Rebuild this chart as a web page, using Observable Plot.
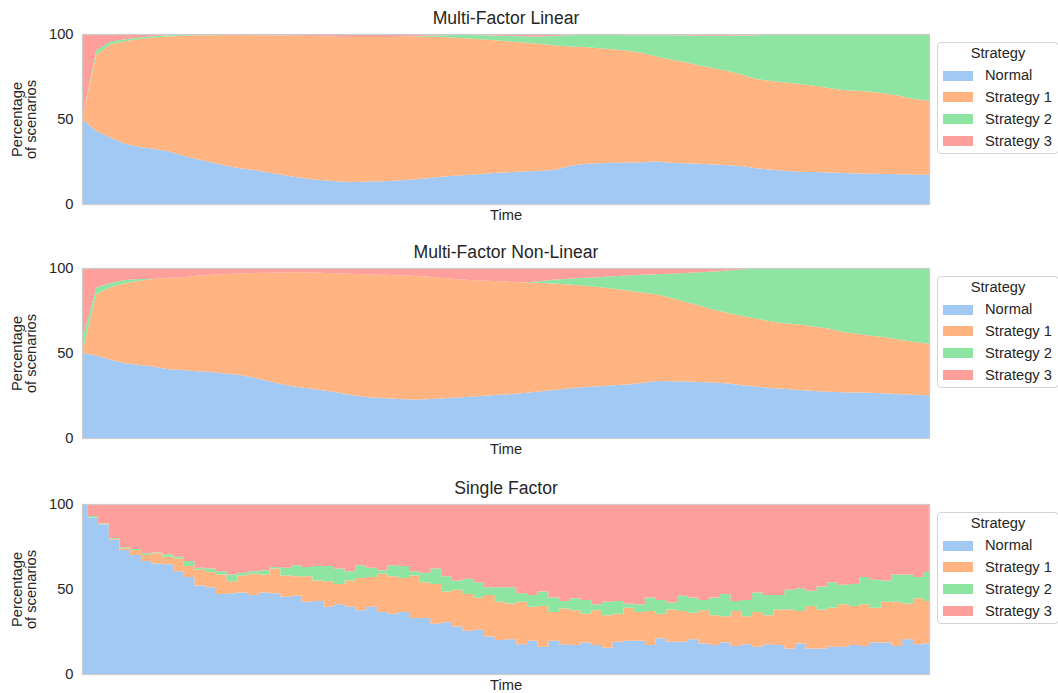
<!DOCTYPE html>
<html>
<head>
<meta charset="utf-8">
<script src="https://cdn.jsdelivr.net/npm/d3@7"></script>
<script src="https://cdn.jsdelivr.net/npm/@observablehq/plot@0.6"></script>
<style>
  body { margin: 0; background: #fff; overflow: hidden; }
  #chart { position: relative; width: 1058px; height: 693px; overflow: hidden;
           font-family: "Liberation Sans", Arial, sans-serif; color: #262626; }
  .panel { position: absolute; left: 0; }
  .legend { position: absolute; left: 937px; width: 122px; height: 112px; box-sizing: border-box;
            border: 1px solid #d4d4d4; border-radius: 4px; background: #fff; font-size: 14.7px; }
  .legend .title { position: absolute; left: 0; right: 0; top: 2px; text-align: center; line-height: 17px; }
  .legend .sw { position: absolute; left: 5px; width: 30px; height: 10px; }
  .legend .lab { position: absolute; left: 47px; line-height: 17px; white-space: nowrap; }
</style>
</head>
<body>
<div id="chart"></div>
<script>
// Strategy categories and their colours (seaborn "pastel")
const strategies = ["Normal", "Strategy 1", "Strategy 2", "Strategy 3"];
const palette = ["#a1c9f4", "#ffb482", "#8de5a1", "#ff9f9b"];
const yTicks = [0, 50, 100];
const panelTitles = ["Multi-Factor Linear", "Multi-Factor Non-Linear", "Single Factor"];
const xLabel = "Time";
const yLabel = "Percentage\nof scenarios";
const legendTitle = "Strategy";

// Multi-Factor Linear: share of scenarios (%) per time step
const linearNormal = [50,43,39,35.5,33.5,32.5,31,28.5,26.5,24.5, 22.5,21,20,18.5,17,15.8,14.6,13.8,13.2,13,
  13.2,13.4,13.8,14.4,15.2,16,16.6,17.2,17.8,18.4, 18.8,19.2,19.5,20.2,22.5,23.6,24,24.2,24.4,24.5,
  25,24.2,23.9,23.7,23.2,22.8,22.2,21,20.2,19.6, 19,18.8,18.6,18.2,17.9,17.8,17.6,17.5,17.4,17.2];
const linearS1 = [0,45,55,60.3,63.5,65.5,67.6,70.5,72.7,74.8, 76.9,78.4,79.3,80.7,82.1,83.2,84.2,84.8,85.2,85.3,
  85.1,84.9,84.6,84.1,83.2,82.2,81.2,80.2,79,77.8, 76.6,75.6,74.6,73.1,70.2,68.7,67.6,66.8,65.8,64.5,
  61.8,60.8,59.7,57.8,56.6,55.5,53.8,52.4,52.2,51.8, 51.6,50.8,49.6,48.8,48.7,48.2,47.4,46.1,44.4,43.6];
const linearS2 = [0,2.5,1.6,1.1,1,0.8,0.6,0.4,0.3,0.3, 0,0,0,0,0,0,0,0,0,0,
  0,0,0,0,0.5,1.1,1.6,2,2.4,2.8, 3.4,3.8,4.5,5.5,6.5,7.1,7.8,8.4,9.1,10.3,
  12.4,14.2,15.5,17.5,19.2,20.7,23.1,25.8,27.1,28.6, 29.4,30.4,31.8,33,33.4,34,35,36.4,38.2,39.2];
const linearS3 = [50,9.5,4.4,3.1,2,1.2,0.8,0.6,0.5,0.4, 0.6,0.6,0.7,0.8,0.9,1,1.2,1.4,1.6,1.7,
  1.7,1.7,1.6,1.5,1.1,0.7,0.6,0.6,0.8,1, 1.2,1.4,1.4,1.2,0.8,0.6,0.6,0.6,0.7,0.7,
  0.8,0.8,0.9,1,1,1,0.9,0.8,0.5,0, 0,0,0,0,0,0,0,0,0,0];

// Multi-Factor Non-Linear
const nonlinNormal = [50,48.5,46,44,43,42,40.5,40,39.3,38.8, 38,37,35.5,33.5,31.5,30,29,27.8,26.5,25,
  24,23.5,23,22.7,22.8,23.3,23.8,24.3,24.8,25.4, 25.9,26.6,27.5,28.4,29.2,30,30.5,31,31.5,32.4,
  33.6,33.4,33.2,33,32.6,32,31,30.2,29.4,28.8, 28.2,27.6,27.2,26.9,26.8,26.6,26.2,25.8,25.4,25.2];
const nonlinS1 = [0,36,42.8,47,49.5,51.5,53.7,54.6,56.1,57.2, 58.4,59.7,61.5,63.7,65.9,67.5,68.4,69.3,70.3,71.5,
  72.2,72.6,72.8,72.8,72.2,70.9,69.8,68.7,67.8,66.8, 65.9,64.9,63.7,62.4,61.1,59.6,58.3,56.8,55.2,53.2,
  50.9,49.1,47,45,42.9,41.5,40.8,40,39.2,38.6, 38.6,38,37.2,35.5,34.5,33.6,33,32,31,30.2];
const nonlinS2 = [7.5,4,2.4,2,1,0,0,0,0,0, 0,0,0,0,0,0,0,0,0,0,
  0,0,0,0,0,0,0,0,0,0, 0,0.1,1.1,2.4,3.4,4.6,5.8,7.3,8.9,10.4,
  11.8,14.1,16.8,19.5,22.5,25,27.3,29.5,31.4,32.6, 33.2,34.4,35.6,37.6,38.7,39.8,40.8,42.2,43.6,44.6];
const nonlinS3 = [42.5,11.5,8.8,7,6.5,6.5,5.8,5.4,4.6,4, 3.6,3.3,3,2.8,2.6,2.5,2.6,2.9,3.2,3.5,
  3.8,3.9,4.2,4.5,5,5.8,6.4,7,7.4,7.8, 8.2,8.4,7.7,6.8,6.3,5.8,5.4,4.9,4.4,4,
  3.7,3.4,3,2.5,2,1.5,0.9,0.3,0,0, 0,0,0,0,0,0,0,0,0,0];

// Single Factor (noisy, drawn as steps)
const singleNormal = [100,92,88,79,73,70,66.5,65,64.5,60.5, 57,52,51,47,47.5,48,46.5,48,47.5,45.5,
  46,42.5,43,39.5,41,39.5,37.5,39.5,36.5,35.5, 36.5,33,33,29.5,30.5,28,25.5,26,22,20,
  20.5,17.5,19.5,16,19.5,17.5,17,18.5,17,15.5, 19,19.5,19.5,17,21,19,19,20.5,18,17,
  18.5,16.5,17.5,16,17.5,17,15,18,15,15, 16,16,17,16.5,18.5,18.5,16.5,20.5,17.5,18];
const singleS1 = [0,0,0,0.5,1,3,3.5,6,4.5,7.5, 6.5,9.5,9,11.5,7,10,12.5,10.5,14.5,12.5,
  11.5,15,12,15,12,15.5,19,17.5,22.5,22, 20,25,21,23.5,18,21.5,21.5,19,24.5,22.5,
  21,25,20,24,17,21,20.5,17,20.5,19, 16.5,19.5,17,20,14.5,19,18,15.5,19.5,17.5,
  15.5,20.5,16.5,20.5,17,21,23,19,25,23, 23,25,23,24.5,20.5,24,26,21,27,25];
const singleS2 = [0,1,0.5,0.5,0.5,0.5,1,0.5,1.5,1, 3,1,2,2,4,1.5,1.5,2.5,1,4.5,
  6.5,5.5,8.5,9,9,5.5,7.5,5.5,2,6.5, 7,2.5,5.5,9,9,5.5,9,9,4.5,8.5,
  9.5,5,7,8.5,8.5,4.5,7,8,3.5,8, 7.5,2.5,4.5,8,8,4,9,9,6,10.5,
  13,6,9.5,11.5,12,8.5,11.5,13.5,9,13.5, 15,11.5,13,16,16.5,12.5,16,17,12.5,17];
const singleS3 = [0,7,11.5,20,25.5,26.5,29,28.5,29.5,31, 33.5,37.5,38,39.5,41.5,40.5,39.5,39,37,37.5,
  36,37,36.5,36.5,38,39.5,36,37.5,39,36, 36.5,39.5,40.5,38,42.5,45,44,46,49,49,
  49,52.5,53.5,51.5,55,57,55.5,56.5,59,57.5, 57,58.5,59,55,56.5,58,54,55,56.5,55,
  53,57,56.5,52,53.5,53.5,50.5,49.5,51,48.5, 46,47.5,47,43,44.5,45,41.5,41.5,43,40];

const panels = [
  {title: panelTitles[0], series: [linearNormal, linearS1, linearS2, linearS3], curve: "linear", top: 0},
  {title: panelTitles[1], series: [nonlinNormal, nonlinS1, nonlinS2, nonlinS3], curve: "linear", top: 234},
  {title: panelTitles[2], series: [singleNormal, singleS1, singleS2, singleS3], curve: "step", top: 470}
];

const chart = document.getElementById("chart");
const font = '"Liberation Sans", Arial, sans-serif';

for (const p of panels) {
  const n = p.series[0].length;
  const rows = [];
  strategies.forEach((s, i) => p.series[i].forEach((v, t) => rows.push({t, strategy: s, value: v})));

  const svg = Plot.plot({
    width: 1058,
    height: 229,
    marginTop: 34,
    marginBottom: 25,
    marginLeft: 82,
    marginRight: 129,
    style: {fontFamily: font, fontSize: "14.7px", color: "#262626", background: "transparent", overflow: "visible"},
    x: {domain: [0, n - 1], axis: null},
    y: {domain: [0, 100], ticks: yTicks, tickSize: 0, tickPadding: 9, label: null},
    color: {domain: strategies, range: palette},
    marks: [
      Plot.areaY(rows, {x: "t", y: "value", z: "strategy", fill: "strategy", order: strategies, curve: p.curve}),
      Plot.frame({stroke: "#cccccc", strokeWidth: 1.25}),
      Plot.text([p.title], {text: d => d, frameAnchor: "top", lineAnchor: "middle", textAnchor: "middle",
        dy: -16, fontSize: 17.6, fill: "#262626"}),
      Plot.text([xLabel], {text: d => d, frameAnchor: "bottom", lineAnchor: "middle", textAnchor: "middle",
        dy: 11, fill: "#262626"}),
      Plot.text([yLabel], {text: d => d, frameAnchor: "left", lineAnchor: "middle", textAnchor: "middle",
        dx: -58, rotate: -90, lineHeight: 0.98, fill: "#262626"})
    ]
  });
  svg.classList.add("panel");
  svg.style.top = p.top + "px";
  chart.appendChild(svg);

  // legend box to the right of the frame
  const lg = document.createElement("div");
  lg.className = "legend";
  lg.style.top = (p.top + 42) + "px";
  const t = document.createElement("div");
  t.className = "title";
  t.textContent = legendTitle;
  lg.appendChild(t);
  const rowY = [32.6, 54.4, 76.2, 98];
  strategies.forEach((s, i) => {
    const sw = document.createElement("div");
    sw.className = "sw";
    sw.style.top = (rowY[i] - 5) + "px";
    sw.style.background = palette[i];
    lg.appendChild(sw);
    const lab = document.createElement("div");
    lab.className = "lab";
    lab.style.top = (rowY[i] - 8.5) + "px";
    lab.textContent = s;
    lg.appendChild(lab);
  });
  chart.appendChild(lg);
}
</script>
</body>
</html>
